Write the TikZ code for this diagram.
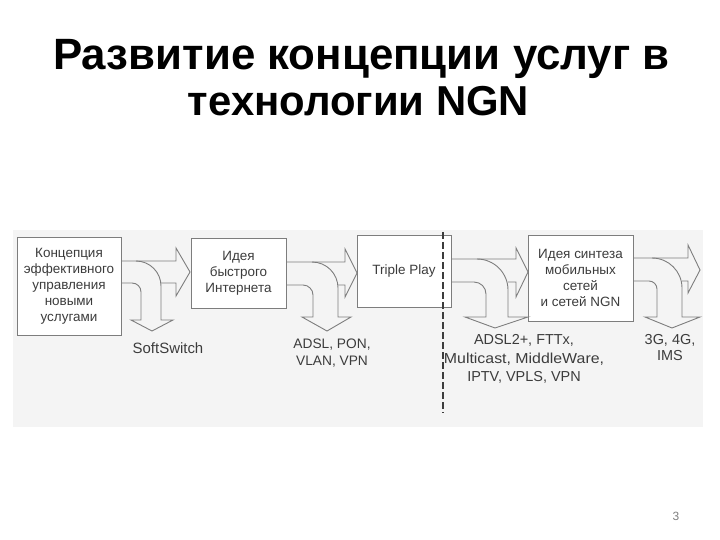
\documentclass[tikz,border=0pt]{standalone}
\usepackage{fontspec}
\setmainfont{Liberation Sans}
\definecolor{ink}{RGB}{60,60,60}
\definecolor{ln}{RGB}{125,125,125}
\definecolor{bgscan}{RGB}{244,244,244}
\begin{document}
\begin{tikzpicture}[x=1bp,y=-1bp,
  box/.style={draw=ln, line width=0.9bp, fill=white, inner sep=0pt, align=center,
    text=ink, font=\fontsize{13.5}{16}\selectfont},
  lbl/.style={text=ink, align=center, inner sep=0pt},
  arr/.style={draw=ln, line width=0.9bp, line join=miter}]
\useasboundingbox (0,0) rectangle (720,540);
% title
\node[anchor=base, font=\fontsize{44}{48}\bfseries\selectfont] (t1) at (361.5,70) {Развитие концепции услуг в};
\node[anchor=base, font=\fontsize{42}{48}\bfseries\selectfont] (t2) at (358.5,116) {технологии NGN};
% scanned background
\fill[bgscan] (13,230) rectangle (703,427);
% boxes
\node[box, minimum width=104bp, minimum height=98bp] (b1) at (69,286) {Концепция\\эффективного\\управления\\новыми\\услугами};
\node[box, minimum width=95bp, minimum height=70bp] (b2) at (238.5,273) {Идея\\быстрого\\Интернета};
\node[box, minimum width=94bp, minimum height=72bp] (b3) at (404,271) {Triple Play};
\node[box, minimum width=105bp, minimum height=86bp] (b4) at (580.5,278) {Идея синтеза\\мобильных\\сетей\\и сетей NGN};
% dashed line
\coordinate (dtop) at (443,232);
\coordinate (dbot) at (443,413);
\draw[draw=ink, line width=1.7bp, dash pattern=on 7bp off 3bp] (dtop) -- (dbot);
% arrow 1
\draw[arr] (121,261) -- (176,261) -- (176,248) -- (190,272) -- (176,296) -- (176,283) -- (161,283);
\draw[arr] (136,261) .. controls (149.8,261) and (161,272.2) .. (161,286) -- (161,320) -- (173,320) -- (152,331) -- (131,320) -- (141,320) -- (141,292) .. controls (141,287) and (137,283) .. (132,283) -- (121,283);
% arrow 2
\draw[arr] (286,262) -- (345,262) -- (345,249) -- (357,273) -- (345,297) -- (345,285) -- (338,285);
\draw[arr] (312,262) .. controls (326.4,262) and (338,273.6) .. (338,288) -- (338,317) -- (351,317) -- (327,331) -- (302,317) -- (313,317) -- (313,295) .. controls (313,289.5) and (308.5,285) .. (303,285) -- (286,285);
% arrow 3
\draw[arr] (451,259) -- (516,259) -- (516,248) -- (528,272) -- (516,297) -- (516,282) -- (508,282);
\draw[arr] (477,259) .. controls (494.1,259) and (508,272.9) .. (508,290) -- (508,317) -- (528,317) -- (495,328) -- (465,317) -- (486,317) -- (486,294) .. controls (486,287.4) and (480.6,282) .. (474,282) -- (451,282);
% arrow 4
\draw[arr] (633,258) -- (688,258) -- (688,245) -- (700,270) -- (688,293) -- (688,281) -- (682,281);
\draw[arr] (652,258) .. controls (668.6,258) and (682,271.4) .. (682,288) -- (682,317) -- (700,317) -- (672,328) -- (645,317) -- (657,317) -- (657,289) .. controls (657,284.6) and (653.4,281) .. (649,281) -- (633,281);
% labels
\node[lbl, font=\fontsize{15}{17}\selectfont] (l1) at (168,348) {SoftSwitch};
\node[lbl, font=\fontsize{13.8}{17}\selectfont] (l2) at (332,353) {ADSL, PON,\\VLAN, VPN};
\node[lbl, font=\fontsize{14.5}{18.5}\selectfont] (l3) at (524,359) {ADSL2+, FTTx,\\\scalebox{1.1}[1]{Multicast, MiddleWare,}\\IPTV, VPLS, VPN};
\node[lbl, font=\fontsize{14.5}{16.5}\selectfont] (l4) at (670,347.5) {3G, 4G,\\IMS};
% page number
\node[text=gray, font=\fontsize{12}{14}\selectfont, inner sep=0pt] (pn) at (676,516) {3};
\end{tikzpicture}
\end{document}
